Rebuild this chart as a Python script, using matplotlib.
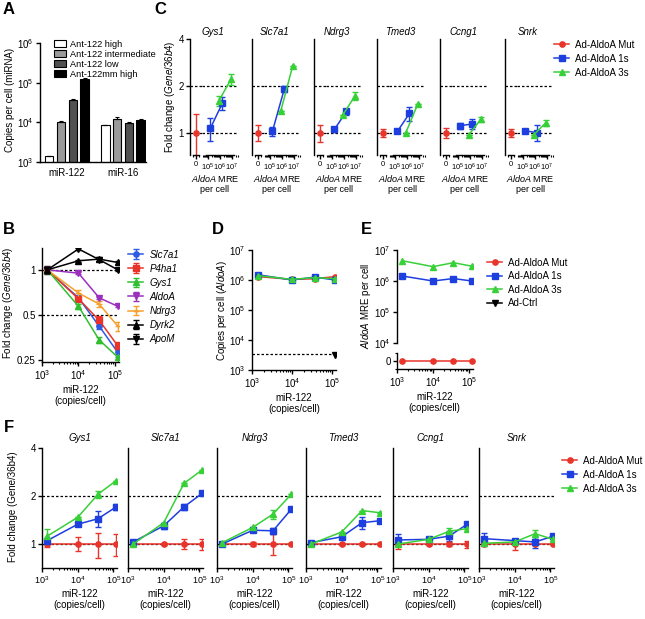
import numpy as np
import matplotlib
matplotlib.use('Agg')
import matplotlib.pyplot as plt
from matplotlib.ticker import LogLocator, NullFormatter, FixedLocator, FixedFormatter

plt.rcParams['font.family'] = ['Liberation Sans', 'DejaVu Sans']
plt.rcParams['font.size'] = 7
plt.rcParams['mathtext.fontset'] = 'custom'
plt.rcParams['mathtext.rm'] = 'Liberation Sans'
plt.rcParams['mathtext.it'] = 'Liberation Sans:italic'
plt.rcParams['axes.linewidth'] = 1.0

##### DATA #####
# A
a_groups = ['miR-122', 'miR-16']
a_series = ['Ant-122 high', 'Ant-122 intermediate', 'Ant-122 low', 'Ant-122mm high']
a_vals = [[1.4e3, 8.5e3], [1.0e4, 1.2e4], [3.7e4, 9.5e3], [1.25e5, 1.15e4]]
a_err = [[0.05e3, 0.2e3], [0.9e3, 1.3e3], [1.2e3, 0.5e3], [3e3, 0.4e3]]
a_colors = ['white', '#9a9a9a', '#505050', 'black']

# miR-122 levels (B, D, E, F)
mir122 = [1.4e3, 1.0e4, 3.7e4, 1.2e5]

# B
b_genes = ['Slc7a1', 'P4ha1', 'Gys1', 'AldoA', 'Ndrg3', 'Dyrk2', 'ApoM']
b_vals = [[1.0, 0.65, 0.42, 0.28],
          [1.0, 0.64, 0.46, 0.31],
          [1.0, 0.57, 0.34, 0.26],
          [1.0, 0.95, 0.65, 0.57],
          [1.0, 0.70, 0.59, 0.42],
          [1.0, 1.15, 1.18, 1.12],
          [1.0, 1.38, 1.17, 1.0]]
b_err = [[0.05, 0.03, 0.02, 0.02],
         [0.04, 0.02, 0.03, 0.02],
         [0.05, 0.02, 0.015, 0.03],
         [0.03, 0.01, 0.01, 0.01],
         [0.04, 0.03, 0.03, 0.03],
         [0.06, 0.02, 0.04, 0.02],
         [0.05, 0.03, 0.03, 0.02]]
b_colors = ['#2d5be3', '#e8342a', '#2fbf2f', '#9b2fc0', '#f5a02a', 'black', 'black']
b_markers = ['o', 's', '^', 'v', '+', '^', 'v']

# C
c_genes = ['Gys1', 'Slc7a1', 'Ndrg3', 'Tmed3', 'Ccng1', 'Snrk']
c_mre_1s = [10 ** 5.2, 10 ** 6.2]
c_mre_3s = [10 ** 5.9, 10 ** 6.9]
c_mut = [1.0, 1.0, 1.0, 1.0, 1.0, 1.0]
c_mut_err = [0.32, 0.12, 0.13, 0.06, 0.08, 0.06]
c_1s = [[1.07, 1.55], [1.02, 1.92], [1.05, 1.37], [1.02, 1.33], [1.11, 1.14], [1.03, 1.0]]
c_1s_err = [[0.18, 0.14], [0.07, 0.08], [0.04, 0.06], [0.02, 0.14], [0.05, 0.09], [0.02, 0.12]]
c_3s = [[1.6, 2.2], [1.38, 2.7], [1.3, 1.72], [1.0, 1.53], [0.97, 1.22], [0.97, 1.16]]
c_3s_err = [[0.12, 0.18], [0.0, 0.0], [0.0, 0.1], [0.0, 0.0], [0.0, 0.05], [0.0, 0.05]]

# D
d_mut = [1.3e6, 1.05e6, 1.1e6, 1.3e6]
d_1s = [1.5e6, 1.0e6, 1.25e6, 1.0e6]
d_3s = [1.4e6, 1.05e6, 1.2e6, 1.1e6]
d_ctrl = 3.2e3
d_ctrl_line = 3.4e3

# E
e_mut = [0, 0, 0, 0]
e_1s = [1.45e6, 1.0e6, 1.2e6, 1.0e6]
e_3s = [4.5e6, 2.9e6, 3.9e6, 3.0e6]

# F
f_mut = [[1.0, 1.0, 1.0, 1.0]] * 6
f_mut_err = [[0.04, 0.1, 0.18, 0.16], [0.03, 0.02, 0.07, 0.08], [0.03, 0.03, 0.15, 0.02],
             [0.02, 0.02, 0.02, 0.02], [0.07, 0.02, 0.03, 0.05], [0.03, 0.08, 0.02, 0.02]]
f_1s = [[1.05, 1.33, 1.44, 1.71], [1.03, 1.30, 1.71, 2.08], [1.0, 1.22, 1.21, 1.65],
        [1.02, 1.11, 1.36, 1.40], [1.06, 1.07, 1.12, 1.33], [1.08, 1.05, 1.03, 1.12]]
f_1s_err = [[0.03, 0.04, 0.17, 0.08], [0.02, 0.05, 0.08, 0.05], [0.02, 0.02, 0.05, 0.03],
            [0.01, 0.04, 0.12, 0.03], [0.09, 0.02, 0.08, 0.05], [0.1, 0.02, 0.08, 0.04]]
f_3s = [[1.12, 1.47, 2.05, 2.5], [1.0, 1.36, 2.4, 2.92], [1.02, 1.27, 1.54, 2.05],
        [1.0, 1.19, 1.62, 1.57], [1.0, 1.07, 1.2, 1.25], [1.01, 1.03, 1.16, 1.07]]
f_3s_err = [[0.13, 0.0, 0.1, 0.0], [0.0, 0.0, 0.0, 0.0], [0.0, 0.0, 0.1, 0.0],
            [0.0, 0.0, 0.0, 0.0], [0.0, 0.0, 0.06, 0.0], [0.0, 0.0, 0.06, 0.0]]

ad_labels = ['Ad-AldoA Mut', 'Ad-AldoA 1s', 'Ad-AldoA 3s']
ad_colors = ['#e8342a', '#1d3fe0', '#38d038']
ad_markers = ['o', 's', '^']
################

W, H = 645, 619
fig = plt.figure(figsize=(W / 100, H / 100), dpi=100)


def box(x0, y0, x1, y1):
    return fig.add_axes([x0 / W, 1 - y1 / H, (x1 - x0) / W, (y1 - y0) / H])


def ftxt(x, y, s, **kw):
    fig.text(x / W, 1 - y / H, s, **kw)


def prism(ax):
    ax.spines['top'].set_visible(False)
    ax.spines['right'].set_visible(False)
    ax.patch.set_alpha(0)
    ax.tick_params(direction='out', length=3, width=1, labelsize=7, pad=1.5)
    ax.tick_params(which='minor', length=1.6, width=0.8)


def logx(ax, lo, hi, ticks):
    ax.set_xscale('log')
    ax.set_xlim(lo, hi)
    ax.xaxis.set_major_locator(FixedLocator(ticks))
    ax.xaxis.set_minor_locator(LogLocator(base=10, subs=np.arange(2, 10)))
    ax.xaxis.set_minor_formatter(NullFormatter())


def fold_y(ax, lo, labels):
    ax.set_yscale('log', base=2)
    ax.set_ylim(lo, 4)
    ax.yaxis.set_major_locator(FixedLocator([1, 2, 4]))
    ax.yaxis.set_minor_locator(FixedLocator([]))
    if labels:
        ax.yaxis.set_major_formatter(FixedFormatter(['1', '2', '4']))
    else:
        ax.tick_params(axis='y', left=False, labelleft=False)


def dash(ax, y):
    ax.axhline(y, color='black', lw=0.9, ls=(0, (2, 1.6)), zorder=1)


ebkw = dict(lw=1.1, ms=3.8, capsize=2, elinewidth=1, capthick=1)

# ---------- A ----------
axA = box(40, 43, 146, 162)
prism(axA)
pos = np.arange(len(a_groups))
offs = (np.arange(len(a_series)) - 1.5) * 0.21
for i in range(len(a_series)):
    axA.bar(pos + offs[i], a_vals[i], 0.15, yerr=[np.zeros(2), a_err[i]],
            color=a_colors[i], edgecolor='black', linewidth=0.8, label=a_series[i],
            error_kw=dict(capsize=1.5, elinewidth=0.8, capthick=0.8))
axA.set_yscale('log')
axA.set_ylim(1e3, 1e6)
axA.yaxis.set_major_locator(FixedLocator([1e3, 1e4, 1e5, 1e6]))
axA.yaxis.set_minor_locator(FixedLocator([]))
axA.set_xlim(-0.48, 1.41)
axA.set_xticks(pos)
axA.set_xticklabels(a_groups)
axA.tick_params(axis='x', length=0, pad=4)
axA.legend(loc='upper left', bbox_to_anchor=(0.1, 1.06), frameon=False, fontsize=6.6,
           handlelength=1.3, handleheight=0.9, labelspacing=0.12, handletextpad=0.4,
           borderaxespad=0.0)
ftxt(10, 100, 'Copies per cell (miRNA)', rotation=90, ha='center', va='center')

# ---------- B ----------
axB = box(42, 248, 118.6, 361.7)
prism(axB)
for i, g in enumerate(b_genes):
    axB.errorbar(mir122, b_vals[i], yerr=b_err[i], color=b_colors[i], marker=b_markers[i],
                 label=g, **ebkw)
dash(axB, 1)
dash(axB, 0.5)
logx(axB, 1e3, 10 ** 5.1, [1e3, 1e4, 1e5])
axB.set_yscale('log', base=2)
axB.set_ylim(0.243, 1.4)
axB.yaxis.set_major_locator(FixedLocator([0.25, 0.5, 1]))
axB.yaxis.set_major_formatter(FixedFormatter(['0.25', '0.5', '1']))
axB.yaxis.set_minor_locator(FixedLocator([]))
axB.set_xlabel('miR-122\n(copies/cell)', labelpad=2)
axB.legend(loc='upper left', bbox_to_anchor=(1.07, 1.02), frameon=False,
           prop={'style': 'italic', 'size': 7}, handlelength=1.6, handletextpad=0.6,
           labelspacing=0.42, borderaxespad=0.0)
ftxt(8, 303, 'Fold change ($\\mathit{Gene/36b4}$)', rotation=90, ha='center', va='center')

# ---------- C ----------
# broken x axis: a short "0" segment plus a log segment (12 px per decade)
c_spines = [190, 252, 314, 377, 440, 505]
c_top, c_bot = 39, 155
c_ylo = 0.72
for i, g in enumerate(c_genes):
    s = c_spines[i]
    ax0 = box(s, c_top, s + 12, c_bot)
    ax1 = box(s + 12, c_top, s + 48, c_bot)
    prism(ax0)
    prism(ax1)
    # zero segment
    ax0.set_xlim(-1.2, 1.2)
    ax0.spines['bottom'].set_bounds(-0.6, 0.6)
    ax0.xaxis.set_major_locator(FixedLocator([0]))
    ax0.xaxis.set_minor_locator(FixedLocator([-0.6, 0.6]))
    ax0.tick_params(axis='x', labelsize=5.4)
    fold_y(ax0, c_ylo, i == 0)
    ax0.errorbar([0], [c_mut[i]], yerr=[c_mut_err[i]], color=ad_colors[0],
                 marker=ad_markers[0], **ebkw)
    # log segment
    ax1.spines['left'].set_visible(False)
    logx(ax1, 10 ** 4.5, 10 ** 7.5, [1e5, 1e6, 1e7])
    ax1.spines['bottom'].set_bounds(10 ** 4.85, 10 ** 7.15)
    ax1.tick_params(axis='x', labelsize=5.4, pad=1.5)
    fold_y(ax1, c_ylo, False)
    ax1.errorbar(c_mre_1s, c_1s[i], yerr=c_1s_err[i], color=ad_colors[1],
                 marker=ad_markers[1], **ebkw)
    ax1.errorbar(c_mre_3s, c_3s[i], yerr=c_3s_err[i], color=ad_colors[2],
                 marker=ad_markers[2], **ebkw)
    for a in (ax0, ax1):
        dash(a, 1)
        dash(a, 2)
    ftxt(s + 23, 32, g, style='italic', ha='center', va='center')
    ftxt(s + 25, 173, '$\\mathit{AldoA}$ MRE\nper cell', ha='center', va='top',
         linespacing=1.15, fontsize=6.5)
ftxt(170, 97, 'Fold change ($\\mathit{Gene/36b4}$)', rotation=90, ha='center', va='center')

c_handles = [plt.Line2D([], [], color=c, marker=m, lw=1.1, ms=3.8)
             for c, m in zip(ad_colors, ad_markers)]
fig.legend(c_handles, ad_labels, loc='upper left', bbox_to_anchor=(550 / W, 1 - 36 / H),
           frameon=False, fontsize=7, handlelength=1.6, handletextpad=0.6,
           labelspacing=0.4, borderaxespad=0.0)

# ---------- D ----------
axD = box(252, 250, 336, 370)
prism(axD)
for v, c, m in zip([d_mut, d_1s, d_3s], ad_colors, ad_markers):
    axD.plot(mir122, v, color=c, marker=m, lw=1.1, ms=3.8)
axD.hlines(d_ctrl_line, 1e3, mir122[-1], color='black', lw=0.9, ls=(0, (2, 1.6)))
axD.plot([mir122[-1]], [d_ctrl], color='black', marker='v', ms=3.8, ls='none')
logx(axD, 1e3, 10 ** 5.1, [1e3, 1e4, 1e5])
axD.set_yscale('log')
axD.set_ylim(1e3, 1e7)
axD.yaxis.set_major_locator(FixedLocator([1e3, 1e4, 1e5, 1e6, 1e7]))
axD.yaxis.set_minor_locator(FixedLocator([]))
axD.set_xlabel('miR-122\n(copies/cell)', labelpad=2)
ftxt(222, 310, 'Copies per cell ($\\mathit{AldoA}$)', rotation=90, ha='center', va='center')

# ---------- E ----------
axE = box(397, 250, 472.6, 343)
axE0 = box(397, 353, 472.6, 369)
prism(axE)
prism(axE0)
axE.spines['bottom'].set_visible(False)
axE.set_yscale('log')
axE.set_ylim(1e4, 1e7)
axE.yaxis.set_major_locator(FixedLocator([1e4, 1e5, 1e6, 1e7]))
axE.yaxis.set_minor_locator(FixedLocator([]))
logx(axE, 1e3, 10 ** 5.1, [1e3, 1e4, 1e5])
axE.tick_params(axis='x', which='both', bottom=False, labelbottom=False)
axE.plot(mir122, e_1s, color=ad_colors[1], marker=ad_markers[1], lw=1.1, ms=3.8)
axE.plot(mir122, e_3s, color=ad_colors[2], marker=ad_markers[2], lw=1.1, ms=3.8)
axE0.plot(mir122, e_mut, color=ad_colors[0], marker=ad_markers[0], lw=1.1, ms=3.8,
          clip_on=False)
axE0.set_ylim(-1, 1)
axE0.yaxis.set_major_locator(FixedLocator([0]))
axE0.yaxis.set_minor_locator(FixedLocator([-1, 1]))
logx(axE0, 1e3, 10 ** 5.1, [1e3, 1e4, 1e5])
axE0.set_xlabel('miR-122\n(copies/cell)', labelpad=2)
ftxt(366, 306, '$\\mathit{AldoA}$ MRE per cell', rotation=90, ha='center', va='center')
e_handles = c_handles + [plt.Line2D([], [], color='black', marker='v', lw=1.1, ms=3.8)]
fig.legend(e_handles, ad_labels + ['Ad-Ctrl'], loc='upper left',
           bbox_to_anchor=(483 / W, 1 - 254 / H), frameon=False, fontsize=7,
           handlelength=1.6, handletextpad=0.6, labelspacing=0.35, borderaxespad=0.0)

# ---------- F ----------
f_spines = [42, 128, 217, 306, 393, 479]
for i, g in enumerate(c_genes):
    s = f_spines[i]
    ax = box(s, 448, s + 75, 568)
    prism(ax)
    for v, e, c, m in zip([f_mut[i], f_1s[i], f_3s[i]], [f_mut_err[i], f_1s_err[i], f_3s_err[i]],
                          ad_colors, ad_markers):
        ax.errorbar(mir122, v, yerr=e, color=c, marker=m, **ebkw)
    dash(ax, 1)
    dash(ax, 2)
    logx(ax, 1e3, 10 ** 5.1, [1e3, 1e4, 1e5])
    ax.tick_params(axis='x', labelsize=6.5)
    fold_y(ax, 0.707, i == 0)
    ax.set_title(g, style='italic', fontsize=7, pad=5)
    ax.set_xlabel('miR-122\n(copies/cell)', labelpad=2)
ftxt(13, 507, 'Fold change (Gene/36b4)', rotation=90, ha='center', va='center')
fig.legend(c_handles, ad_labels, loc='upper left', bbox_to_anchor=(558 / W, 1 - 452 / H),
           frameon=False, fontsize=7, handlelength=1.6, handletextpad=0.6,
           labelspacing=0.4, borderaxespad=0.0)

# panel letters
for lab, x, y in [('A', 9, 9), ('C', 160, 9), ('B', 9, 230), ('D', 218, 230),
                  ('E', 366, 230), ('F', 9, 428)]:
    ftxt(x, y, lab, fontsize=12, fontweight='bold', ha='center', va='center')

fig.savefig('out.png', dpi=100)
